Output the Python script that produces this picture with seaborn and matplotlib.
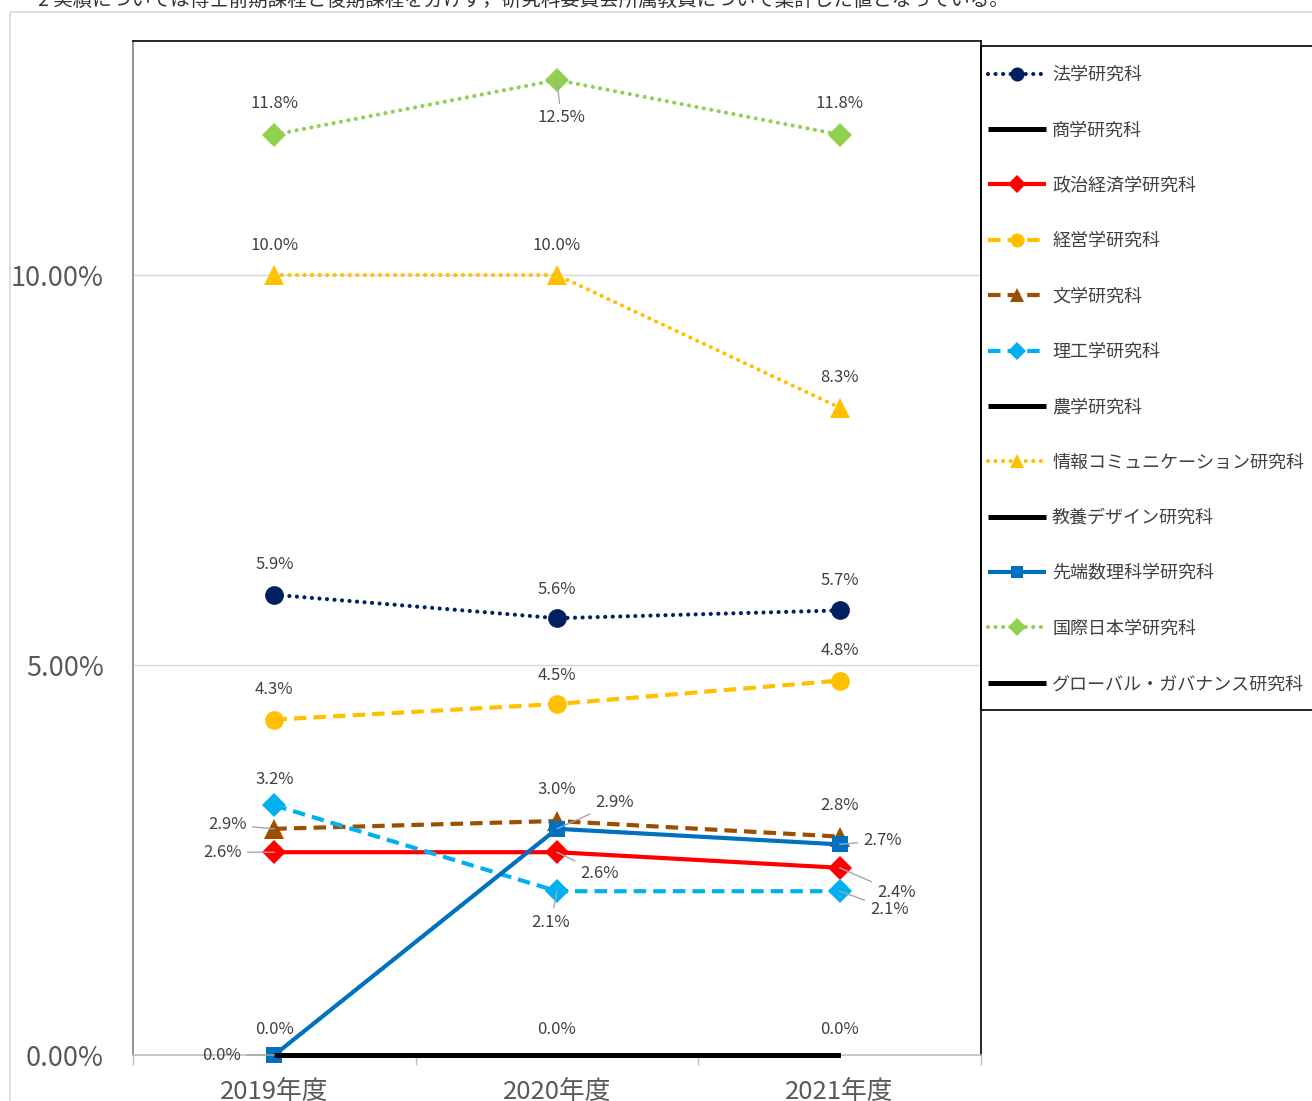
import matplotlib
matplotlib.use("Agg")
import matplotlib.pyplot as plt
from matplotlib.patches import Rectangle
import seaborn as sns

# data (percent)
years = ["2019年度", "2020年度", "2021年度"]
series_names = ["法学研究科", "商学研究科", "政治経済学研究科", "経営学研究科", "文学研究科",
                "理工学研究科", "農学研究科", "情報コミュニケーション研究科", "教養デザイン研究科",
                "先端数理科学研究科", "国際日本学研究科", "グローバル・ガバナンス研究科"]
hogaku = [5.9, 5.6, 5.7]
shogaku = [0.0, 0.0, 0.0]
seikei = [2.6, 2.6, 2.4]
keiei = [4.3, 4.5, 4.8]
bungaku = [2.9, 3.0, 2.8]
riko = [3.2, 2.1, 2.1]
nogaku = [0.0, 0.0, 0.0]
joho = [10.0, 10.0, 8.3]
kyoyo = [0.0, 0.0, 0.0]
sentan = [0.0, 2.9, 2.7]
kokusai = [11.8, 12.5, 11.8]
global_gov = [0.0, 0.0, 0.0]
values = [hogaku, shogaku, seikei, keiei, bungaku, riko, nogaku, joho, kyoyo, sentan, kokusai, global_gov]
note = "2 実績については博士前期課程と後期課程を分けず，研究科委員会所属教員について集計した値となっている。"

dot = (0, (0.01, 1.8))
dash = (0, (3.0, 1.7))
# color, linestyle, marker, markersize, linewidth
styles = [
    ("#002060", dot, "o", 13.5, 3),
    ("#000000", "-", None, 0, 3.6),
    ("#FF0000", "-", "D", 12, 3),
    ("#FFC000", dash, "o", 13.5, 3),
    ("#9C4F00", dash, "^", 14, 3),
    ("#00B0F0", dash, "D", 12, 3),
    ("#000000", "-", None, 0, 3.6),
    ("#FFC000", dot, "^", 14, 3),
    ("#000000", "-", None, 0, 3.6),
    ("#0070C0", "-", "s", 11.5, 3),
    ("#92D050", dot, "D", 12, 3),
    ("#000000", "-", None, 0, 3.6),
]
up = (0, 30)
black_lab = [(0, 26)] * 3
# label offsets in pixels
offsets = [
    [up, (0, 29), up],
    black_lab,
    [(-52, 0), (43, -21), (57, -25)],
    [up, (0, 29), up],
    [(-47, 4), (0, 31), (0, 31)],
    [(0, 26), (-6, -31), (50, -18)],
    black_lab,
    [up, up, up],
    black_lab,
    [(-53, 0), (58, 26), (43, 4)],
    [(0, 31), (4, -38), (0, 31)],
    black_lab,
]

sns.set_theme(style="white")
plt.rcParams["font.family"] = ["Noto Sans CJK JP", "DejaVu Sans"]

fig = plt.figure(figsize=(13.12, 11.01), dpi=100)
ax = fig.add_axes([133 / 1312, 46 / 1101, 848 / 1312, 1014 / 1101])

xpos = [0, 1, 2]
done = set()
for name, vals, st, offs in zip(series_names, values, styles, offsets):
    color, ls, mk, ms, lw = st
    cap = "round" if ls == dot else "butt"
    sns.lineplot(x=xpos, y=vals, ax=ax, color=color, linestyle=ls, linewidth=lw,
                 marker=mk, markersize=ms, markeredgewidth=0, label=name,
                 dash_capstyle=cap, solid_capstyle="butt", clip_on=False, zorder=3)
    for i, v in enumerate(vals):
        dx, dy = offs[i]
        key = (i, v, dx, dy)
        if key in done:
            continue
        done.add(key)
        leader = dx != 0 or dy < 0
        ax.annotate(f"{v:.1f}%", (i, v), xytext=(dx, dy), textcoords="offset pixels",
                    ha="center", va="center", fontsize=12, color="#404040",
                    arrowprops=dict(arrowstyle="-", color="#A6A6A6", lw=1, shrinkA=2, shrinkB=0) if leader else None,
                    zorder=10)

ax.set_xlim(-0.5, 2.5)
ax.set_ylim(0, 13)
ax.set_yticks([0, 5, 10])
ax.set_yticklabels([f"{t:.2f}%" for t in [0, 5, 10]], fontsize=19.5, color="#595959")
ax.set_xticks(xpos)
ax.set_xticklabels(years, fontsize=18.5, color="#595959")
ax.set_xticks([-0.5, 0.5, 1.5, 2.5], minor=True)
ax.tick_params(axis="y", length=0, pad=21)
ax.tick_params(axis="x", which="major", length=0, pad=17)
ax.tick_params(axis="x", which="minor", length=7, color="#BFBFBF", width=1, bottom=True)
ax.yaxis.grid(True, color="#D9D9D9", linewidth=1)
ax.set_axisbelow(True)
ax.spines["top"].set_color("black")
ax.spines["right"].set_color("black")
ax.spines["left"].set_color("#7F7F7F")
ax.spines["bottom"].set_color("#BFBFBF")
for s in ax.spines.values():
    s.set_linewidth(1.2)
ax.set_xlabel("")
ax.set_ylabel("")

handles, labels = ax.get_legend_handles_labels()
ax.get_legend().remove()
fig.legend(handles, labels, loc="upper left", bbox_to_anchor=(979 / 1312, 1 - 57 / 1101),
           frameon=False, borderpad=0, handlelength=3.2, handletextpad=0.35,
           labelspacing=2.07, fontsize=13, labelcolor="#404040", markerscale=0.75)

fig.patches.append(Rectangle((981 / 1312, 1 - 710 / 1101), 0.5, 664 / 1101,
                             transform=fig.transFigure, fill=False, edgecolor="black", linewidth=1.2))
fig.patches.append(Rectangle((10 / 1312, -0.02), 1.2, 1 - 12 / 1101 + 0.02,
                             transform=fig.transFigure, fill=False, edgecolor="#D9D9D9", linewidth=1.2))
fig.text(38 / 1312, 1.0, note, ha="left", va="center", fontsize=14, color="#333333")

fig.savefig("out.png", dpi=100)
